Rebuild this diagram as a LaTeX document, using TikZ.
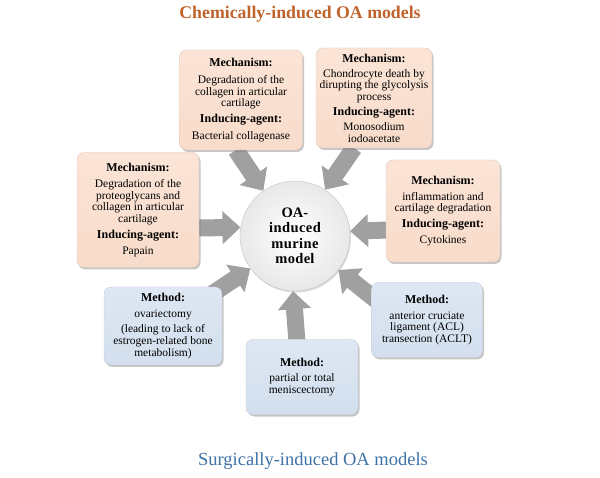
\documentclass[tikz,border=0pt]{standalone}
\usepackage{fontspec}
\setmainfont{Liberation Serif}
\usetikzlibrary{shadows,arrows.meta,backgrounds}
\definecolor{chemtitle}{HTML}{C0622B}
\definecolor{surgtitle}{HTML}{3F72A6}
\definecolor{chemfill}{HTML}{FBE4D6}
\definecolor{chemfillb}{HTML}{F8DCCB}
\definecolor{surgfill}{HTML}{DEE7F3}
\definecolor{surgfillb}{HTML}{D3DFEE}
\definecolor{arrowgray}{HTML}{A0A0A0}
\tikzset{
  box/.style={rounded corners=7pt, align=center, font=\fontsize{11.5}{11.8}\selectfont,
     drop shadow={shadow xshift=1.5pt, shadow yshift=-2pt, opacity=0.45}, inner sep=2pt},
  chembox/.style={box, top color=chemfill, bottom color=chemfillb, draw=chemfillb!80!gray},
  surgbox/.style={box, top color=surgfill, bottom color=surgfillb, draw=surgfillb!80!gray},
  bigarrow/.style={draw=arrowgray, line width=17pt, -{Triangle[width=32pt,length=18pt]}, arrowgray},
}
\newcommand{\hdr}[1]{{\bfseries\fontsize{12}{12}\selectfont #1}}
\begin{document}
\begin{tikzpicture}[x=1pt,y=-1pt]
\useasboundingbox (0,0) rectangle (600,478);
% titles
\node[font=\bfseries\fontsize{17.8}{20}\selectfont, text=chemtitle] (t1) at (300,14) {Chemically-induced OA models};
\node[font=\fontsize{18.5}{20}\selectfont, text=surgtitle] (t2) at (313,461) {Surgically-induced OA models};

% center circle
\node[circle, minimum size=110pt, draw=gray!45, inner color=white, outer color=gray!18,
      drop shadow={shadow xshift=1pt, shadow yshift=-1.5pt, opacity=0.3},
      font=\bfseries\fontsize{14.5}{16}\selectfont, align=center] (c) at (295,236)
      {OA-\\[-0.5pt]\addfontfeature{LetterSpace=3}induced\\[-0.5pt]\addfontfeature{LetterSpace=3}murine\\[-0.5pt]\addfontfeature{LetterSpace=2}model};

% chemical boxes
\node[chembox, minimum width=123pt, minimum height=100pt] (tl) at (241,100)
  {\hdr{Mechanism:}\\[5pt]Degradation of the\\collagen in articular\\cartilage\\[4pt]\hdr{Inducing-agent:}\\[5pt]Bacterial collagenase};
\node[chembox, minimum width=116pt, minimum height=100pt] (tr) at (374,98)
  {\hdr{Mechanism:}\\[3pt]Chondrocyte death by\\dirupting the glycolysis\\process\\[3pt]\hdr{Inducing-agent:}\\[3pt]Monosodium\\iodoacetate};
\node[chembox, minimum width=122pt, minimum height=115pt] (lf) at (138,210)
  {\hdr{Mechanism:}\\[4pt]Degradation of the\\proteoglycans and\\collagen in articular\\cartilage\\[4pt]\hdr{Inducing-agent:}\\[4pt]Papain};
\node[chembox, minimum width=114pt, minimum height=102pt] (rt) at (443,211)
  {\hdr{Mechanism:}\\[4pt]inflammation and\\cartilage degradation\\[4pt]\hdr{Inducing-agent:}\\[4pt]Cytokines};

% surgical boxes
\node[surgbox, minimum width=118pt, minimum height=78pt] (bl) at (163,326)
  {\hdr{Method:}\\[4pt]ovariectomy\\[4pt](leading to lack of\\estrogen-related bone\\metabolism)};
\node[surgbox, minimum width=112pt, minimum height=75pt] (bm) at (302,377)
  {\hdr{Method:}\\[4pt]partial or total\\meniscectomy};
\node[surgbox, minimum width=111pt, minimum height=75pt] (br) at (427,320)
  {\hdr{Method:}\\[4pt]anterior cruciate\\ligament (ACL)\\transection (ACLT)};

% arrow start points
\coordinate (s1) at (236,150);
\coordinate (s2) at (354,148);
\coordinate (s3) at (198,228);
\coordinate (s4) at (388,230);
\coordinate (s5) at (203,300);
\coordinate (s6) at (297,342);
\coordinate (s7) at (376,300);

\begin{pgfonlayer}{background}
\draw[bigarrow] (s1) -- (c.125);
\draw[bigarrow] (s2) -- (c.57);
\draw[bigarrow] (s3) -- (c.171);
\draw[bigarrow] (s4) -- (c.5);
\draw[bigarrow] (s5) -- (c.216);
\draw[bigarrow] (s6) -- (c.268);
\draw[bigarrow] (s7) -- (c.322);
\end{pgfonlayer}
\end{tikzpicture}
\end{document}
